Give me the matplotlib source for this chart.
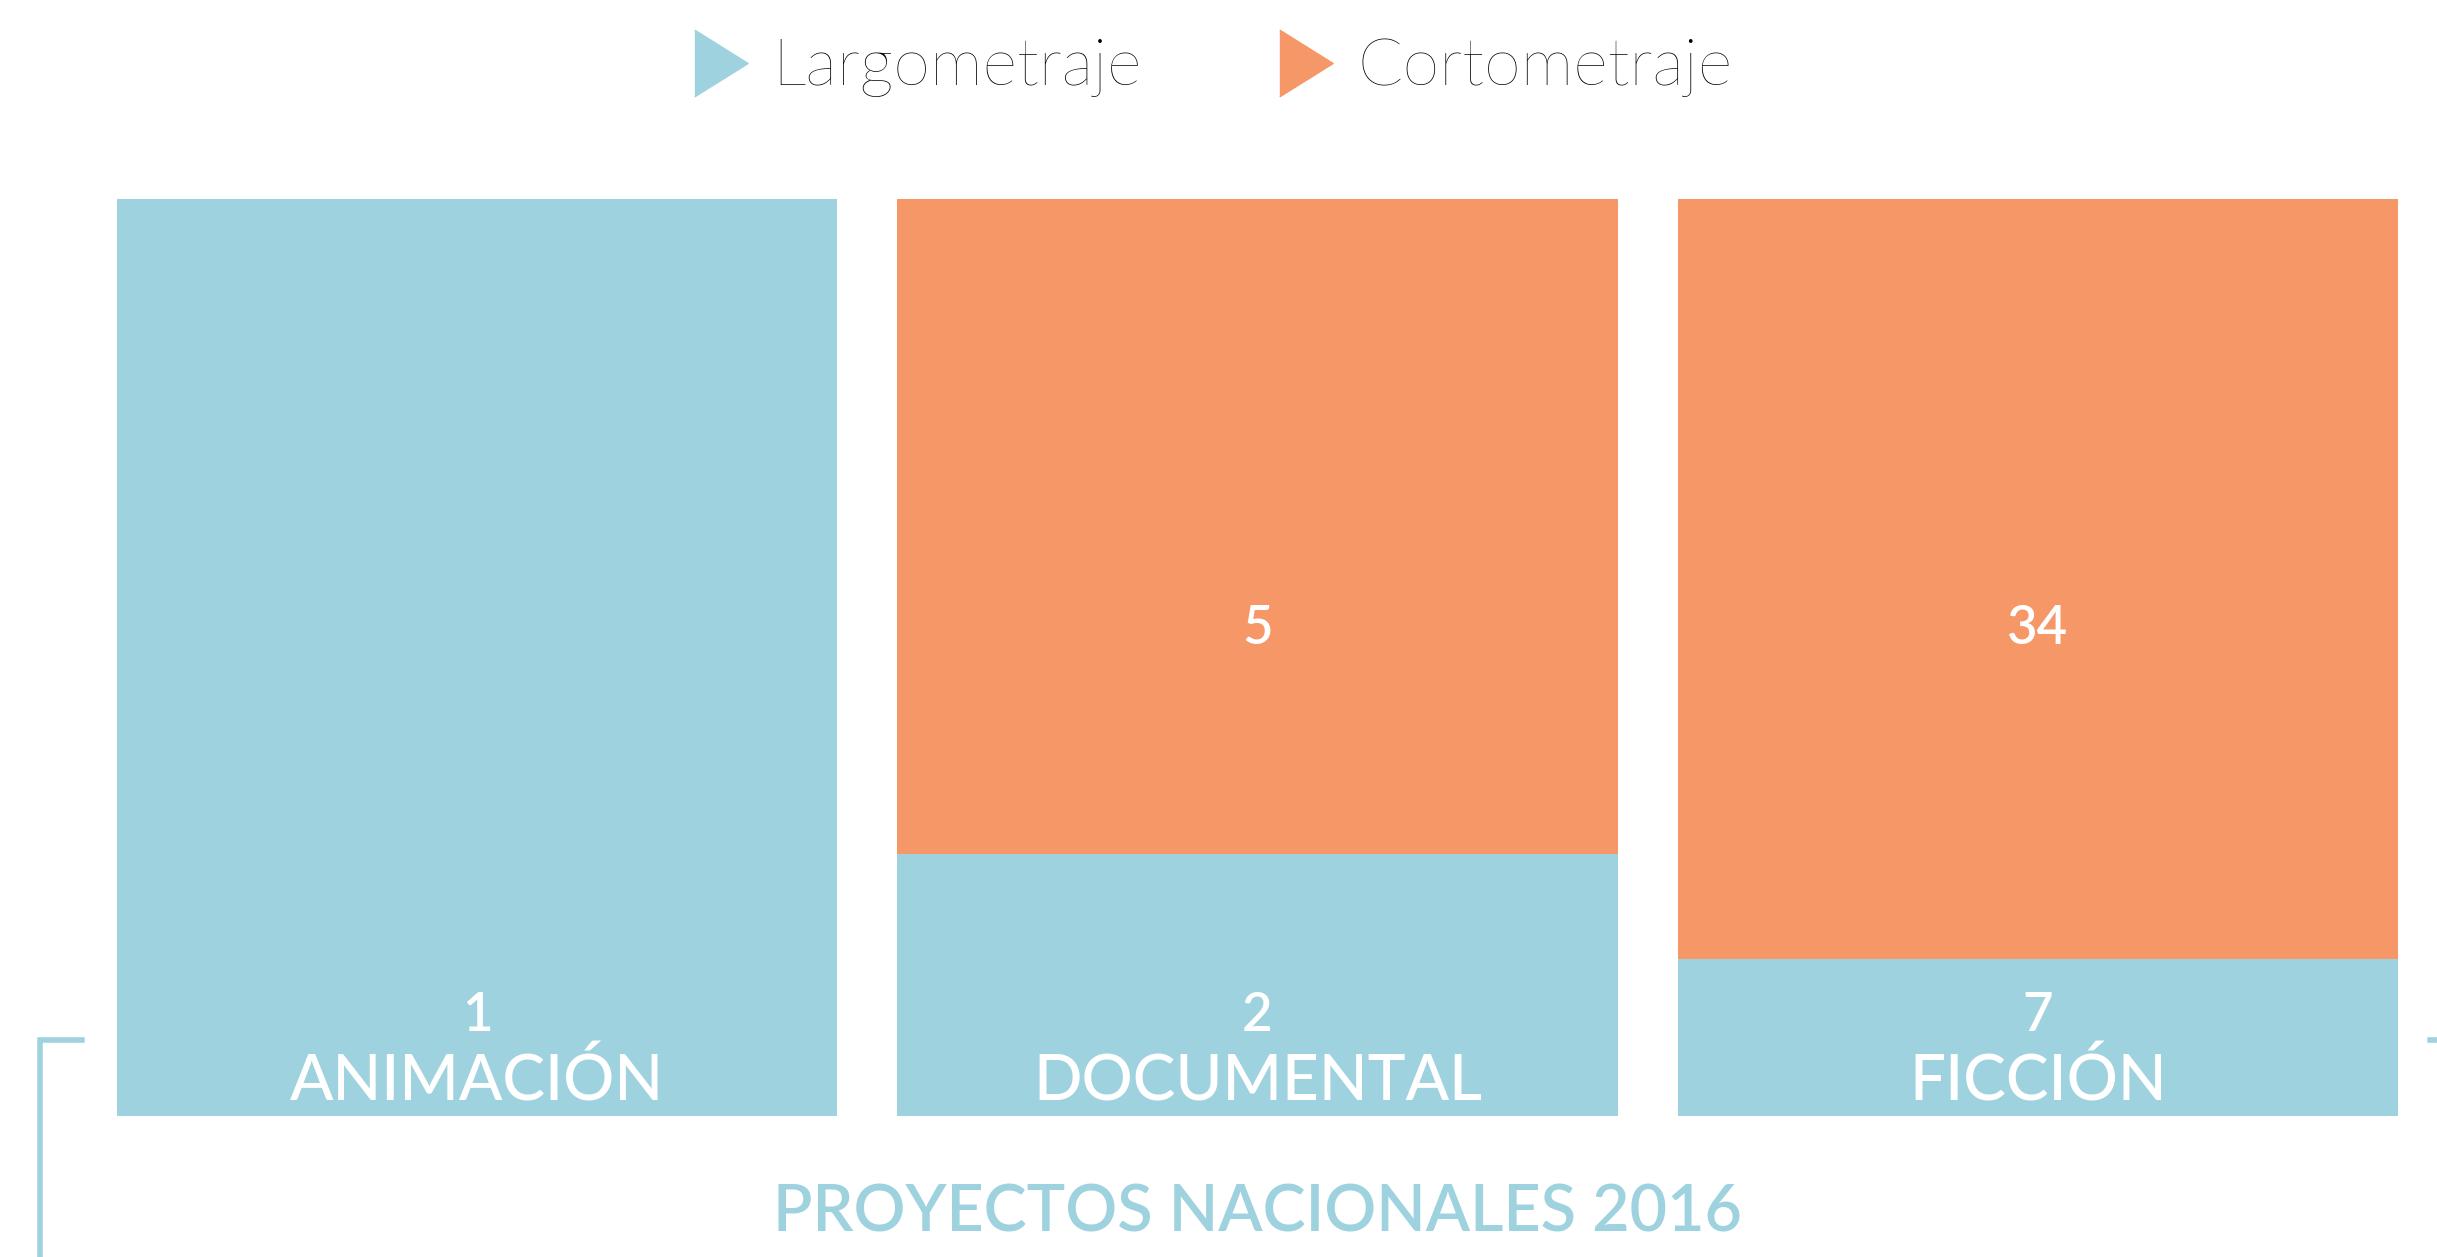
import matplotlib.pyplot as plt
from matplotlib.lines import Line2D
import numpy as np

# data
categorias = ['ANIMACIÓN', 'DOCUMENTAL', 'FICCIÓN']
largometraje = [1, 2, 7]
cortometraje = [0, 5, 34]
series = ['Largometraje', 'Cortometraje']
titulo = 'PROYECTOS NACIONALES 2016'

AZUL = '#9fd2df'
NARANJA = '#f69768'
FONT = 'Lato'

W, H = 2437, 1257
fig = plt.figure(figsize=(W / 100, H / 100), dpi=100)

ax_left, ax_right = 117 / W, 2398 / W
ax_bot, ax_top = 1 - 1116 / H, 1 - 199 / H
ax = fig.add_axes([ax_left, ax_bot, ax_right - ax_left, ax_top - ax_bot])

x = np.arange(len(categorias))
largo = np.array(largometraje, dtype=float)
corto = np.array(cortometraje, dtype=float)
total = largo + corto
width = 720 / 780

ax.bar(x, largo / total, width=width, color=AZUL, linewidth=0)
ax.bar(x, corto / total, bottom=largo / total, width=width, color=NARANJA, linewidth=0)
ax.set_xlim(-width / 2, len(categorias) - 1 + width / 2)
ax.set_ylim(0, 1)
ax.axis('off')

trans = ax.get_xaxis_transform()
for i, cat in enumerate(categorias):
    ax.text(x[i], 0.0164, cat, transform=trans, ha='center', va='baseline',
            color='white', fontsize=46, family=FONT, fontweight='medium')
    ax.text(x[i], 0.0927, str(largometraje[i]), transform=trans, ha='center',
            va='baseline', color='white', fontsize=38, family=FONT, fontweight='semibold')
    if cortometraje[i] > 0:
        ax.text(x[i], 0.532, str(cortometraje[i]), transform=trans, ha='center',
                va='center', color='white', fontsize=38, family=FONT, fontweight='semibold')

# legend
leg_x = [695, 1280]
for lx, name, col in zip(leg_x, series, [AZUL, NARANJA]):
    fig.add_artist(Line2D([(lx + 26) / W], [1 - 63 / H], transform=fig.transFigure,
                          marker=[(-0.8, 1), (0.8, 0), (-0.8, -1)], markersize=48,
                          color=col, linestyle='none'))
    fig.text((lx + 77) / W, 1 - 85 / H, name, ha='left', va='baseline',
             fontsize=48, family=FONT, fontweight='light', color='black')

# title
fig.text((ax_left + ax_right) / 2, 1 - 1231 / H, titulo, ha='center', va='baseline',
         fontsize=46.5, family=FONT, fontweight='semibold', color=AZUL)

# bracket lines
fig.add_artist(Line2D([82 / W, 40 / W, 40 / W], [1 - 1040 / H, 1 - 1040 / H, 0],
                      transform=fig.transFigure, color=AZUL, linewidth=4,
                      solid_joinstyle='miter'))
fig.add_artist(Line2D([2430 / W, 1], [1 - 1040 / H, 1 - 1040 / H],
                      transform=fig.transFigure, color=AZUL, linewidth=4))

fig.savefig('out.png', dpi=100)
